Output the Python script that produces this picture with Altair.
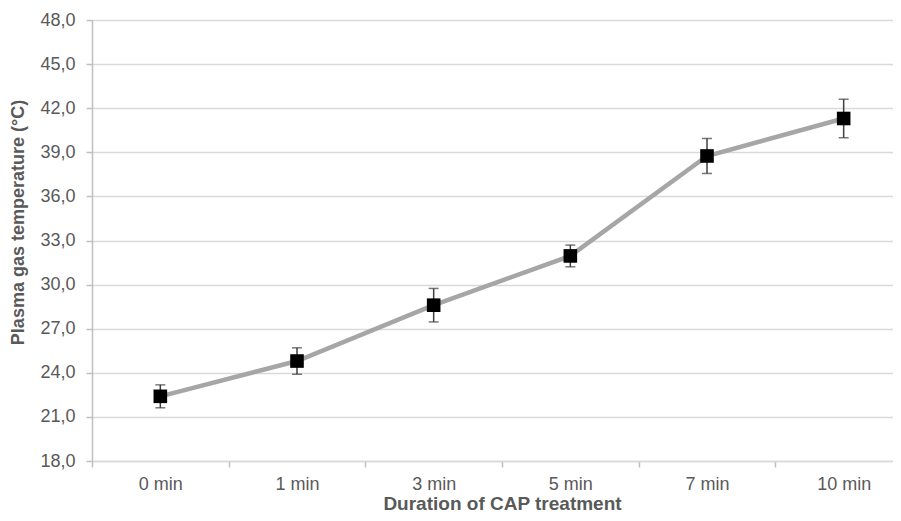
import altair as alt
import pandas as pd

categories = ["0 min", "1 min", "3 min", "5 min", "7 min", "10 min"]
means = [22.4, 24.8, 28.6, 31.95, 38.75, 41.3]
errors = [0.78, 0.9, 1.14, 0.74, 1.19, 1.31]
y_ticks = [18, 21, 24, 27, 30, 33, 36, 39, 42, 45, 48]

df = pd.DataFrame({
    "cat": categories,
    "mean": means,
    "lo": [m - e for m, e in zip(means, errors)],
    "hi": [m + e for m, e in zip(means, errors)],
})

FONT = "Liberation Sans"
TXT = "#595959"

x_enc = alt.X(
    "cat:N",
    sort=categories,
    scale=alt.Scale(range=[0, 820], paddingInner=0, paddingOuter=0),
    axis=alt.Axis(
        title="Duration of CAP treatment",
        labelAngle=0,
        labelFont=FONT,
        labelFontSize=18,
        labelColor=TXT,
        labelPadding=8,
        tickBand="extent",
        tickSize=6,
        tickColor="#bfbfbf",
        tickWidth=1.5,
        domainColor="#d9d9d9",
        domainWidth=1.5,
        grid=False,
        titleFont=FONT,
        titleFontSize=19,
        titleFontWeight="bold",
        titleColor=TXT,
        titleX=410,
        titleY=33,
        titleAlign="center",
        titleBaseline="top",
    ),
)

y_scale = alt.Scale(domain=[18, 48], nice=False, zero=False)
y_axis = alt.Axis(
    title="Plasma gas temperature (°C)",
    values=y_ticks,
    labelExpr="replace(format(datum.value, '.1f'), '.', ',')",
    labelFont=FONT,
    labelFontSize=18,
    labelColor=TXT,
    labelPadding=11,
    tickSize=6,
    tickColor="#bfbfbf",
    tickWidth=1.5,
    domainColor="#bfbfbf",
    domainWidth=1.5,
    gridColor="#d9d9d9",
    gridWidth=1.5,
    titleFont=FONT,
    titleFontSize=18,
    titleFontWeight="bold",
    titleColor=TXT,
    titleAngle=-90,
    titleX=-74,
    titleY=202,
    titleAlign="center",
    titleBaseline="middle",
)

base = alt.Chart(df)

line = base.mark_line(color="#a6a6a6", strokeWidth=4.5).encode(
    x=x_enc, y=alt.Y("mean:Q", scale=y_scale, axis=y_axis)
)
rules = base.mark_rule(color="#404040", strokeWidth=1.5).encode(
    x=alt.X("cat:N", sort=categories), y="lo:Q", y2="hi:Q"
)
cap_lo = base.mark_tick(color="#404040", thickness=1.5, size=10).encode(
    x=alt.X("cat:N", sort=categories), y="lo:Q"
)
cap_hi = base.mark_tick(color="#404040", thickness=1.5, size=10).encode(
    x=alt.X("cat:N", sort=categories), y="hi:Q"
)
points = base.mark_square(color="black", size=185, opacity=1, filled=True).encode(
    x=alt.X("cat:N", sort=categories), y="mean:Q"
)

chart = (
    alt.layer(line, rules, cap_lo, cap_hi, points)
    .properties(
        width=801,
        height=441,
        autosize=alt.AutoSizeParams(type="none"),
        padding={"left": 84, "top": 12, "right": 0, "bottom": 52},
    )
    .configure_view(stroke=None)
    .configure(background="white")
)

chart.save("out.html", embed_options={"renderer": "svg", "actions": False})
